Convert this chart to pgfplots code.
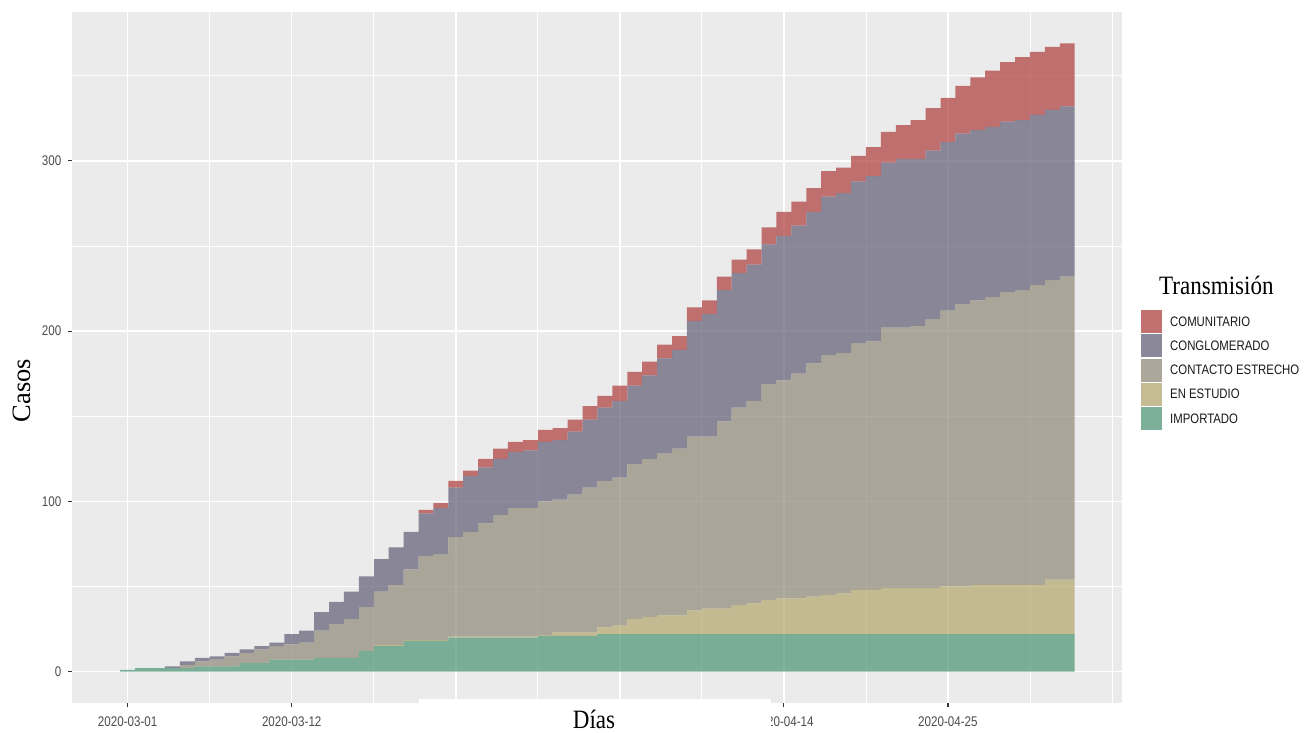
\documentclass[border=0pt]{standalone}
\usepackage{pgfplots}
\pgfplotsset{compat=1.18}
\usepackage{pgfplotstable}
\usepackage{fontspec}
\setmainfont{Liberation Sans}
\newfontfamily\tickfont{Liberation Sans}[FakeStretch=0.83]
\newfontfamily\titlefont{Liberation Serif}[FakeStretch=0.87]
\newfontfamily\titlefontplain{Liberation Serif}
\definecolor{panelbg}{HTML}{EBEBEB}
\definecolor{cCom}{RGB}{174,59,59}
\definecolor{cCong}{RGB}{96,92,116}
\definecolor{cCont}{RGB}{142,138,119}
\definecolor{cEst}{RGB}{179,166,109}
\definecolor{cImp}{RGB}{74,148,114}

% day: 0 = 2020-03-01
\pgfplotstableread{
day G E C CG CM
0 1 0 0 0 0
1 2 0 0 0 0
2 2 0 0 0 0
3 2 0 0 1 0
4 2 0 2 2 0
5 3 0 3 2 0
6 3 0 4 2 0
7 3 0 6 2 0
8 5 0 6 2 0
9 5 0 8 2 0
10 7 0 8 2 0
11 7 0 9 6 0
12 7 0 10 7 0
13 8 0 16 11 0
14 8 0 20 13 0
15 8 0 23 16 0
16 12 0 26 18 0
17 15 0.5 31.5 19 0
18 15 0.5 35.5 22 0
19 18 0.5 41.5 22 0
20 18 0.5 49.5 25 2
21 18 0.5 50.5 27 3
22 20 0.5 58.5 29 4
23 20 0.5 61.5 33 3
24 20 0.5 66.5 33 5
25 20 0.5 71.5 33 6
26 20 0.5 75.5 33 6
27 20 0.5 75.5 34 6
28 21 0.5 78.5 35 7
29 21 2 78 35 7
30 21 2 81 37 7
31 21 2 85 40 8
32 22 4 86 43 7
33 22 5 87 45 9
34 22 9 91 46 8
35 22 10 93 49 8
36 22 11 95 56 8
37 22 11 98 58 8
38 22 14 102 68 8
39 22 15 101 72 8
40 22 15 110 77 8
41 22 17 116 79 8
42 22 18 119 80 9
43 22 20 127 82 10
44 22 21 128 85 14
45 22 21 132 87 14
46 22 22 137 89 14
47 22 23 141 93 15
48 22 24 141 94 15
49 22 26 145 95 15
50 22 26 146 97 17
51 22 27 153 97 18
52 22 27 153 99 20
53 22 27 154 98 23
54 22 27 158 99 25
55 22 28 162 99 26
56 22 28 166 100 28
57 22 29 167 100 31
58 22 29 169 100 33
59 22 29 172 100 35
60 22 29 173 100 37
61 22 29 176 100 37
62 22 32 176 100 37
63 22 32 178 100 37
}\data

\begin{document}
\begin{tikzpicture}
\useasboundingbox (0,0) rectangle (1309pt,733pt);
\begin{axis}[
  at={(72.5pt,30pt)}, anchor=south west,
  scale only axis, width=1050pt, height=691pt,
  xmin=-3.7, xmax=66.7, ymin=-18.45, ymax=387.45,
  axis background/.style={fill=panelbg},
  axis line style={draw=none},
  xtick={0,11,22,33,44,55},
  xticklabels={2020-03-01,2020-03-12,{},{},2020-04-14,2020-04-25},
  minor xtick={5.5,16.5,27.5,38.5,49.5,60.5,66},
  ytick={0,100,200,300},
  minor ytick={50,150,250,350},
  grid=both,
  major grid style={white, line width=1.5pt},
  minor grid style={white, line width=0.8pt},
  tick align=outside,
  major tick length=4.5pt,
  minor tick length=0pt,
  tick style={color=black!80, line width=1.1pt},
  xtick pos=left, ytick pos=left,
  tick label style={font=\tickfont\fontsize{14}{16}\selectfont, color=black!70},
  /pgf/number format/assume math mode=true,
  xticklabel style={anchor=north, inner sep=0pt, yshift=-9pt},
  yticklabel style={anchor=east, inner sep=0pt, xshift=-6.5pt},
  ybar stacked, bar width=1,
]
\addplot[fill=cImp, draw=none, fill opacity=0.7] table[x=day, y=G]{\data};
\addplot[fill=cEst, draw=none, fill opacity=0.7] table[x=day, y=E]{\data};
\addplot[fill=cCont, draw=none, fill opacity=0.7] table[x=day, y=C]{\data};
\addplot[fill=cCong, draw=none, fill opacity=0.7] table[x=day, y=CG]{\data};
\addplot[fill=cCom, draw=none, fill opacity=0.7] table[x=day, y=CM]{\data};
\end{axis}
\fill[white] (419pt,0pt) rectangle (771pt,34pt);
\node[anchor=base, inner sep=0pt, font=\titlefont\fontsize{26.5}{30}\selectfont] at (594pt,4pt) {Días};
\node[rotate=90, anchor=base, inner sep=0pt, font=\titlefontplain\fontsize{26.5}{30}\selectfont] at (30pt,342.5pt) {Casos};
\node[anchor=base west, inner sep=0pt, font=\titlefont\fontsize{26.5}{30}\selectfont] at (1159pt,438pt) {Transmisión};
\foreach \c/\l/\y in {cCom/COMUNITARIO/411, cCong/CONGLOMERADO/387, cCont/CONTACTO ESTRECHO/362.8, cEst/EN ESTUDIO/338.7, cImp/IMPORTADO/314.6} {
  \fill[black!5] (1141pt,\y pt) ++(0pt,-11.5pt) rectangle ++(21pt,23pt);
  \fill[\c, fill opacity=0.7] (1141pt,\y pt) ++(0pt,-11.5pt) rectangle ++(21pt,23pt);
  \node[anchor=base west, inner sep=0pt, yshift=-4.7pt, font=\tickfont\fontsize{13.7}{16}\selectfont, color=black!90] at (1170pt,\y pt) {\l};
}
\end{tikzpicture}
\end{document}
